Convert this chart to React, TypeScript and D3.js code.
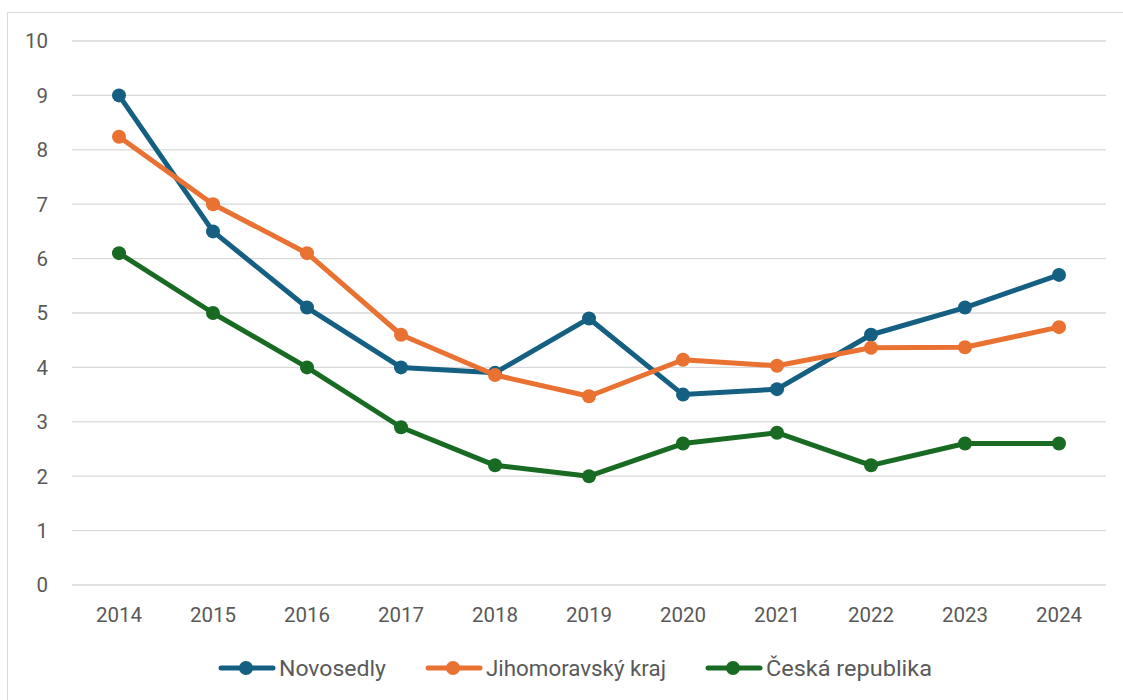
import React from "react";
import * as d3 from "d3";

const years = ["2014","2015","2016","2017","2018","2019","2020","2021","2022","2023","2024"];
const novosedly = [9.0, 6.5, 5.1, 4.0, 3.9, 4.9, 3.5, 3.6, 4.6, 5.1, 5.7];
const jihomoravsky = [8.24, 7.0, 6.1, 4.6, 3.86, 3.47, 4.14, 4.03, 4.36, 4.37, 4.74];
const ceskaRepublika = [6.1, 5.0, 4.0, 2.9, 2.2, 2.0, 2.6, 2.8, 2.2, 2.6, 2.6];
const yTicks = [0,1,2,3,4,5,6,7,8,9,10];

const seriesNames = ["Novosedly", "Jihomoravský kraj", "Česká republika"];
const seriesColors = ["#156082", "#E97132", "#196B24"];
const seriesData = [novosedly, jihomoravsky, ceskaRepublika];

export default function App() {
  const W = 1123, H = 700;
  const x = d3.scalePoint<string>().domain(years).range([119, 1059]);
  const y = d3.scaleLinear().domain([0, 10]).range([585, 41]);
  const line = d3.line<number>().x((_, i) => x(years[i])!).y(d => y(d));
  const font = "Roboto, 'Noto Sans', sans-serif";
  const legendX = [219, 426, 706];
  const legendTextW = [107, 180, 166];
  return (
    <svg width={W} height={H} style={{ position: "absolute", left: 0, top: 0 }}>
      <rect x={0} y={0} width={W} height={H} fill="#fff" />
      <rect x={7.5} y={12.5} width={W} height={H} fill="none" stroke="#d9d9d9" strokeWidth={1} />
      {yTicks.map(t => (
        <g key={t}>
          <line x1={72} x2={1106} y1={y(t)} y2={y(t)} stroke="#d9d9d9" strokeWidth={1.3} />
          <text x={48} y={y(t)} dy="0.36em" textAnchor="end" fontFamily={font} fontSize={20.5} fill="#595959">{t}</text>
        </g>
      ))}
      {years.map(yr => (
        <text key={yr} x={x(yr)} y={614.5} dy="0.36em" textAnchor="middle" fontFamily={font} fontSize={20.5} fill="#595959">{yr}</text>
      ))}
      {seriesData.map((s, si) => (
        <g key={si}>
          <path d={line(s)!} fill="none" stroke={seriesColors[si]} strokeWidth={5} strokeLinejoin="round" strokeLinecap="round" />
          {s.map((v, i) => (
            <circle key={i} cx={x(years[i])} cy={y(v)} r={7} fill={seriesColors[si]} />
          ))}
        </g>
      ))}
      {seriesNames.map((n, i) => (
        <g key={n} transform={`translate(${legendX[i]},668)`}>
          <line x1={2} x2={54} y1={0} y2={0} stroke={seriesColors[i]} strokeWidth={5} strokeLinecap="round" />
          <circle cx={27} cy={0} r={7} fill={seriesColors[i]} />
          <text x={60} y={0} dy="0.36em" fontFamily={font} fontSize={22.5} fill="#595959" textLength={legendTextW[i]} lengthAdjust="spacingAndGlyphs">{n}</text>
        </g>
      ))}
    </svg>
  );
}
